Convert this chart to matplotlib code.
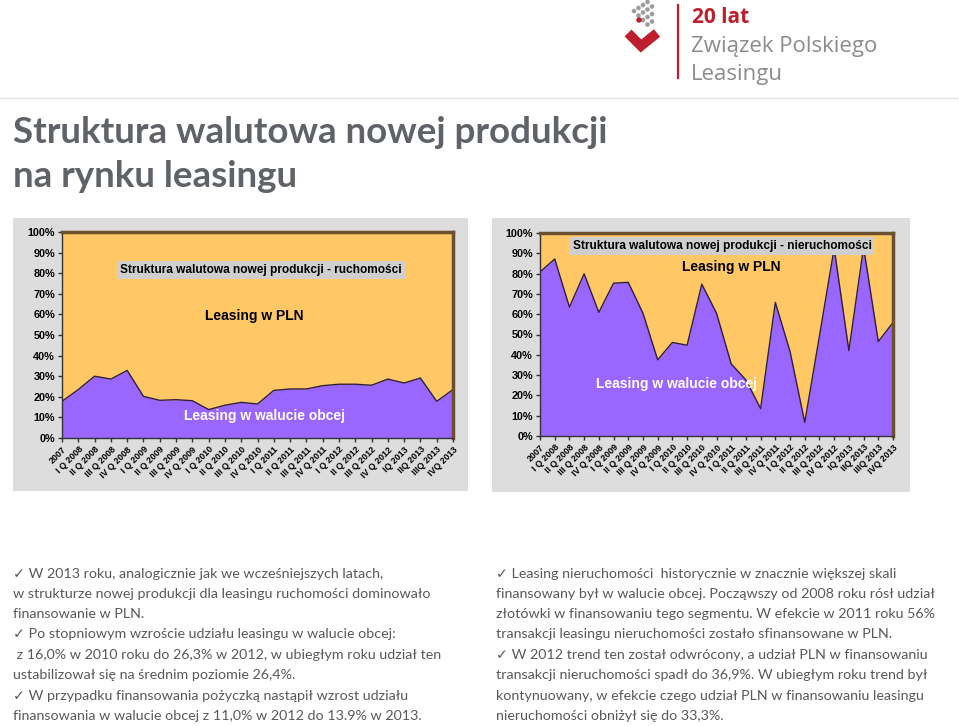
import matplotlib.pyplot as plt
from matplotlib.patches import Rectangle, Circle

W, H = 959, 726

QUARTERS = [
    "2007",
    "I Q 2008", "II Q 2008", "III Q 2008", "IV Q 2008",
    "I Q 2009", "II Q 2009", "III Q 2009", "IV Q 2009",
    "I Q 2010", "II Q 2010", "III Q 2010", "IV Q 2010",
    "I Q 2011", "II Q 2011", "III Q 2011", "IV Q 2011",
    "I Q 2012", "II Q 2012", "III Q 2012", "IV Q 2012",
    "IQ 2013", "IIQ 2013", "IIIQ 2013", "IVQ 2013",
]

# udział leasingu w walucie obcej (%), reszta do 100% = PLN
MOVABLES_FX = [17.8, 23.5, 30.0, 28.6, 32.8, 20.2, 18.3, 18.6, 18.1, 13.8,
               15.9, 17.3, 16.5, 23.1, 23.8, 23.8, 25.4, 26.1, 26.1, 25.6,
               28.6, 26.7, 29.1, 17.8, 23.5]
REAL_ESTATE_FX = [80.8, 87.2, 63.5, 79.9, 60.9, 75.3, 75.7, 60.5, 37.5, 46.1,
                  44.7, 74.8, 60.5, 35.5, 27.6, 13.5, 65.8, 41.6, 6.7, 49.3,
                  92.5, 42.1, 93.0, 46.5, 55.9]

Y_TICKS = list(range(0, 101, 10))

LEFT_NOTES = [
    "\u2713 W 2013 roku, analogicznie jak we wcześniejszych latach,",
    "w strukturze nowej produkcji dla leasingu ruchomości dominowało",
    "finansowanie w PLN.",
    "\u2713 Po stopniowym wzroście udziału leasingu w walucie obcej:",
    " z 16,0% w 2010 roku do 26,3% w 2012, w ubiegłym roku udział ten",
    "ustabilizował się na średnim poziomie 26,4%.",
    "\u2713 W przypadku finansowania pożyczką nastąpił wzrost udziału",
    "finansowania w walucie obcej z 11,0% w 2012 do 13.9% w 2013.",
]
RIGHT_NOTES = [
    "\u2713 Leasing nieruchomości  historycznie w znacznie większej skali",
    "finansowany był w walucie obcej. Począwszy od 2008 roku rósł udział",
    "złotówki w finansowaniu tego segmentu. W efekcie w 2011 roku 56%",
    "transakcji leasingu nieruchomości zostało sfinansowane w PLN.",
    "\u2713 W 2012 trend ten został odwrócony, a udział PLN w finansowaniu",
    "transakcji nieruchomości spadł do 36,9%. W ubiegłym roku trend był",
    "kontynuowany, w efekcie czego udział PLN w finansowaniu leasingu",
    "nieruchomości obniżył się do 33,3%.",
]

YELLOW = "#FFC865"
PURPLE = "#9966FF"
PANEL = "#DDDDDD"
RED = "#BE1E2D"
TEXT_GRAY = "#595959"
BODY_FONT = ["Lato", "DejaVu Sans"]

fig = plt.figure(figsize=(W / 100, H / 100), dpi=100)
bg = fig.add_axes([0, 0, 1, 1])
bg.set_xlim(0, W)
bg.set_ylim(H, 0)
bg.axis("off")

# logo
bg.plot([678, 678], [5, 78], color=RED, lw=1.6)
bg.plot([628, 641, 657], [33, 46, 33], color=RED, lw=7,
        solid_joinstyle="miter", solid_capstyle="butt")
for i in range(4):
    for j in range(4):
        if i + j > 4:
            continue
        cx = 634 + i * 4.5 + j * 4.5
        cy = 8 + i * 4.5 - j * 3.0 + 3
        bg.add_patch(Circle((cx, cy), 1.6, color="#9d9d9d"))
bg.add_patch(Circle((639, 20), 2.0, color=RED))
bg.text(692, 23, "20 lat", color=RED, fontsize=15, fontweight="bold",
        family=["Open Sans", "DejaVu Sans"], va="baseline")
bg.text(691, 52, "Związek Polskiego", color="#8c8c8c", fontsize=16,
        family=["Open Sans", "DejaVu Sans"], va="baseline")
bg.text(691, 80, "Leasingu", color="#8c8c8c", fontsize=16,
        family=["Open Sans", "DejaVu Sans"], va="baseline")

bg.plot([0, W], [98, 98], color="#e3e3e3", lw=1)

# title
bg.text(13, 143, "Struktura walutowa nowej produkcji", color="#5f6368",
        fontsize=26.5, fontweight="bold", family=BODY_FONT, va="baseline")
bg.text(13, 187, "na rynku leasingu", color="#5f6368",
        fontsize=26.5, fontweight="bold", family=BODY_FONT, va="baseline")

# gray chart panels
bg.add_patch(Rectangle((13, 218), 455, 273, color=PANEL, lw=0))
bg.add_patch(Rectangle((492, 218), 418, 274, color=PANEL, lw=0))


def draw_chart(rect, values, title, title_xy, pln_xy, fx_xy):
    ax = fig.add_axes(rect)
    x = list(range(len(values)))
    ax.set_facecolor(YELLOW)
    ax.fill_between(x, 0, values, color=PURPLE, lw=0)
    ax.plot(x, values, color="#2e1f3f", lw=1)
    ax.set_xlim(0, len(values) - 1)
    ax.set_ylim(0, 100)
    ax.set_yticks(Y_TICKS)
    ax.set_yticklabels([f"{v}%" for v in Y_TICKS], fontsize=7.8,
                       fontweight="bold", family="Liberation Sans")
    ax.set_xticks(x)
    ax.set_xticklabels(QUARTERS, rotation=45, ha="right",
                       rotation_mode="anchor", fontsize=6.4,
                       fontweight="bold", family="Liberation Sans")
    ax.tick_params(length=3, width=1, color="#333333", pad=2)
    for side in ("left", "bottom"):
        ax.spines[side].set_color("#333333")
        ax.spines[side].set_linewidth(1)
    for side in ("top", "right"):
        ax.spines[side].set_color("#6b5030")
        ax.spines[side].set_linewidth(2.5)

    ax.text(*title_xy, title, transform=bg.transData, ha="center",
            va="center", fontsize=8.6, fontweight="bold",
            family="Liberation Sans", color="black",
            bbox=dict(boxstyle="square,pad=0.25", fc="#cfcfcf", ec="none"))
    ax.text(*pln_xy, "Leasing w PLN", transform=bg.transData, ha="center",
            va="center", fontsize=10, fontweight="bold",
            family="Liberation Sans", color="black")
    ax.text(*fx_xy, "Leasing w walucie obcej", transform=bg.transData,
            ha="center", va="center", fontsize=10, fontweight="bold",
            family="Liberation Sans", color="white")
    return ax


draw_chart([62 / W, 1 - 438 / H, 391 / W, 206 / H], MOVABLES_FX,
           "Struktura walutowa nowej produkcji - ruchomości",
           (261, 270), (254, 316), (265, 416))
draw_chart([540 / W, 1 - 436 / H, 353 / W, 203 / H], REAL_ESTATE_FX,
           "Struktura walutowa nowej produkcji - nieruchomości",
           (722, 246), (731, 267), (676, 384))

# notes
LINE_Y = [574, 594, 614, 634, 655, 675, 696, 716]
for y, line in zip(LINE_Y, LEFT_NOTES):
    bg.text(13, y, line, color=TEXT_GRAY, fontsize=10.3, family=BODY_FONT,
            va="center")
for y, line in zip(LINE_Y, RIGHT_NOTES):
    bg.text(496, y, line, color=TEXT_GRAY, fontsize=10.3, family=BODY_FONT,
            va="center")

fig.savefig("out.png", dpi=100)
